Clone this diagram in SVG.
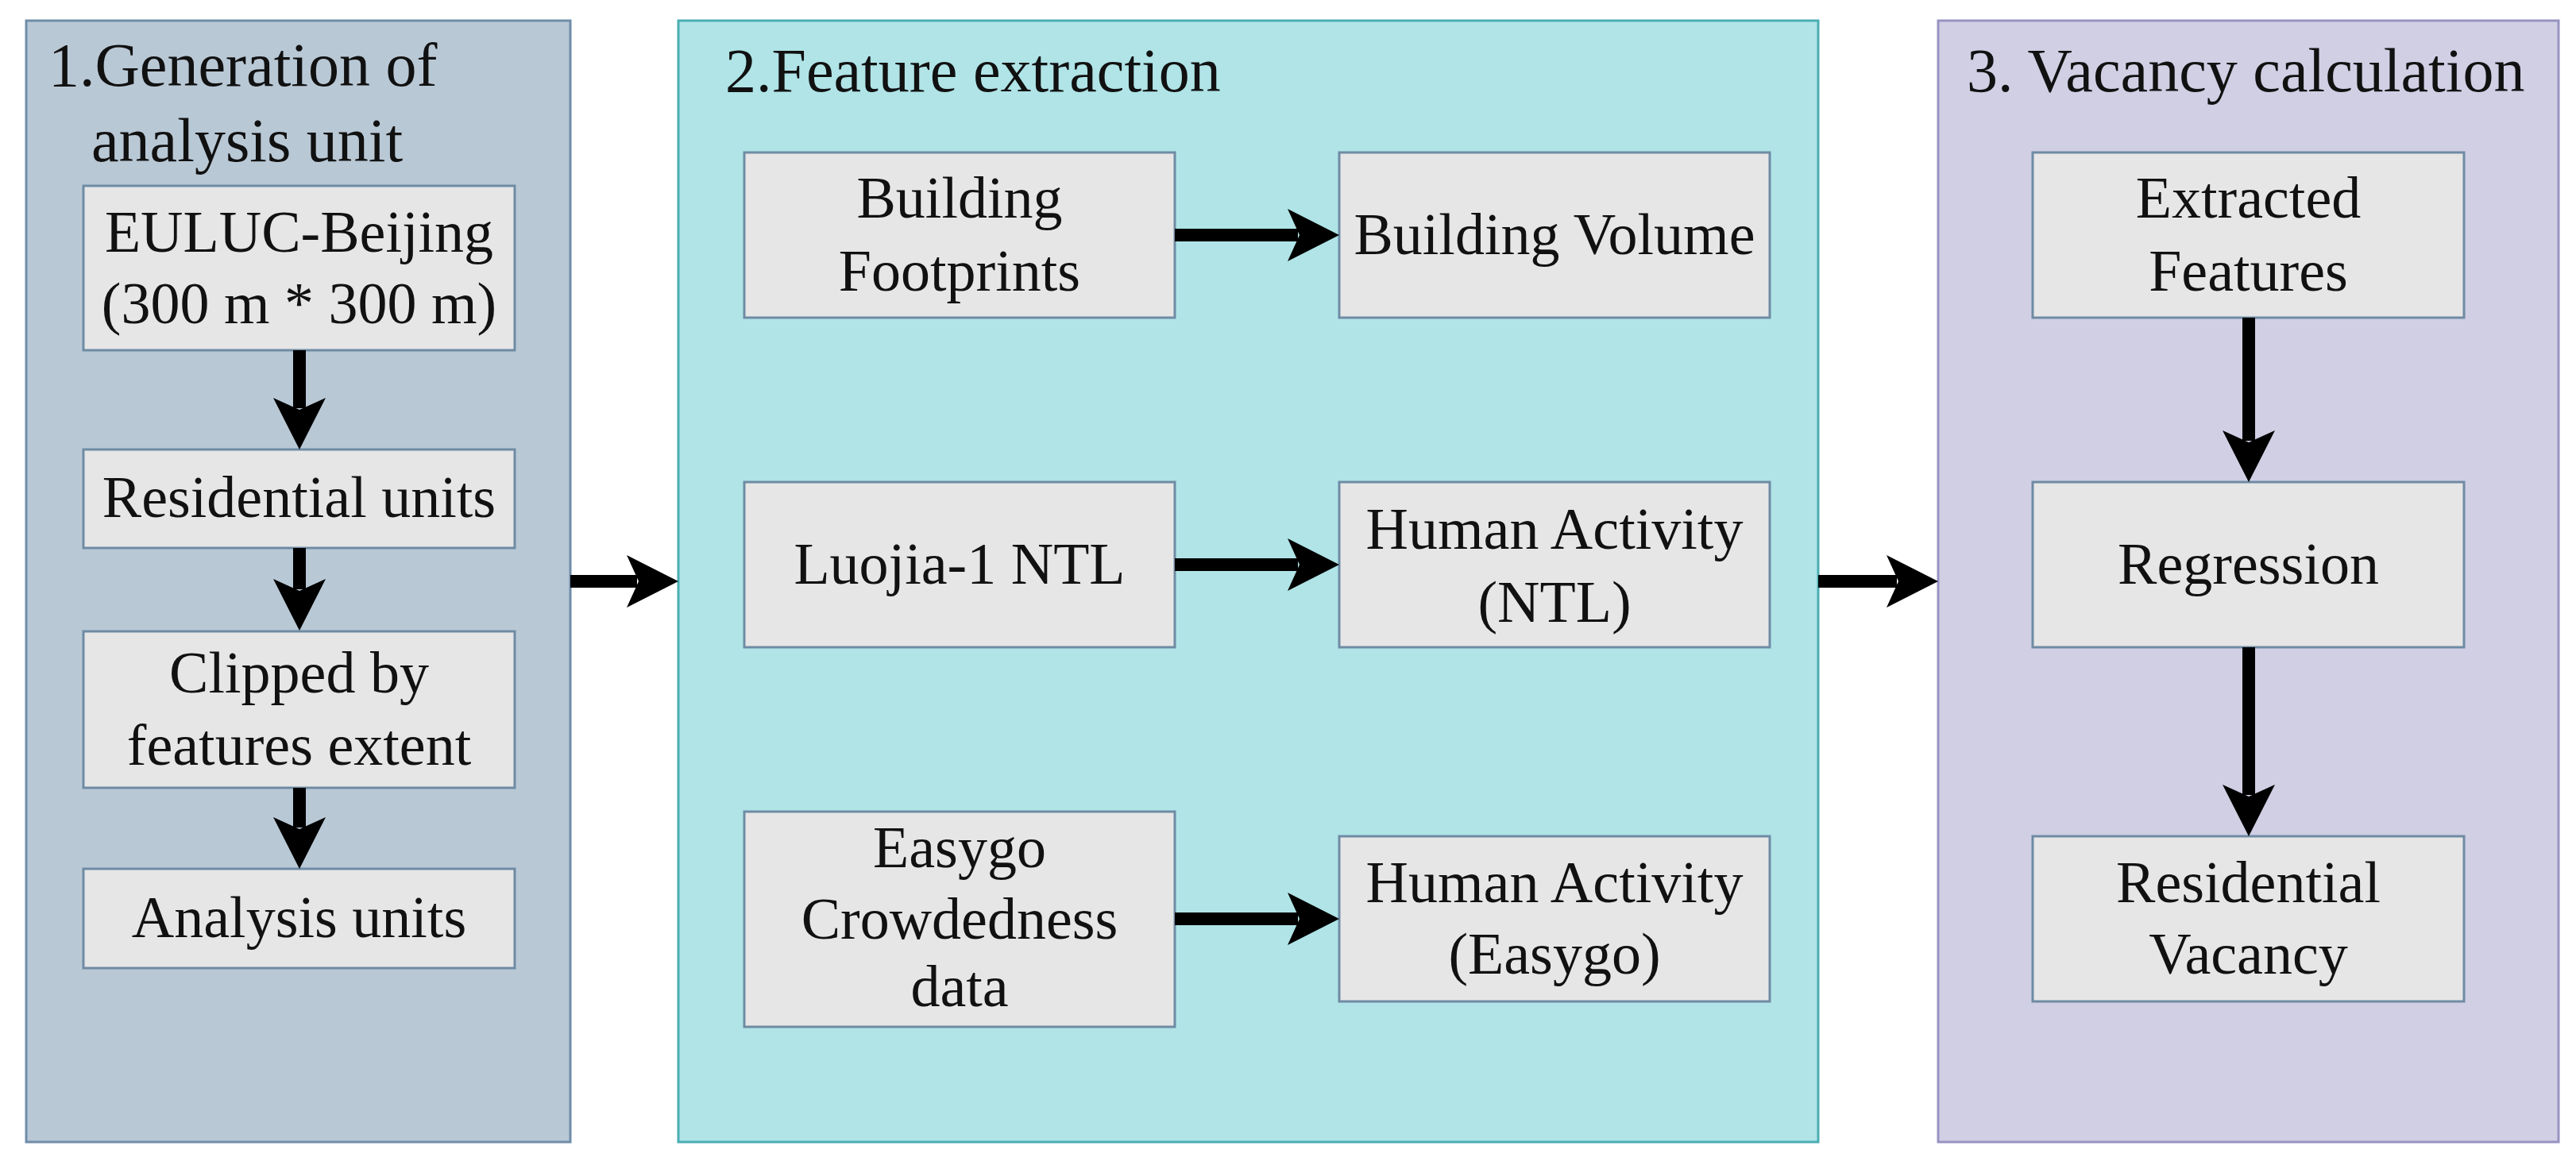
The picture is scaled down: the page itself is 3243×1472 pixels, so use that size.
<svg xmlns="http://www.w3.org/2000/svg" xmlns:xlink="http://www.w3.org/1999/xlink" width="3243" height="1472" viewBox="0 0 3243 1472">
<defs>
<style>
.t{font-family:"Liberation Serif","Times New Roman",serif;fill:#111;}
.title{font-size:78px;}
.lbl{font-size:74px;text-anchor:middle;}
.box{fill:#e6e6e6;stroke:#6f8ba4;stroke-width:3;}
.shaft{stroke:#000;stroke-width:16;fill:none;}
</style>
<path id="head" d="M0,0 L-65,-33 L-50,0 L-65,33 Z" fill="#000"/>
</defs>
<rect width="3243" height="1472" fill="#fff"/>

<g id="panel1">
<rect x="33" y="26" width="685" height="1412" fill="#b9c8d5" stroke="#6f8daa" stroke-width="3"/>
<text class="t title" x="61" y="108">1.Generation of</text>
<text class="t title" x="115" y="203">analysis unit</text>
</g>
<g id="panel2">
<rect x="854" y="26" width="1435" height="1412" fill="#b0e4e7" stroke="#4aaeb4" stroke-width="3"/>
<text class="t title" x="913" y="115">2.Feature extraction</text>
</g>
<g id="panel3">
<rect x="2440" y="26" width="781" height="1412" fill="#d0cfe4" stroke="#9893c2" stroke-width="3"/>
<text class="t title" x="2476" y="115">3. Vacancy calculation</text>
</g>

<g id="node-euluc">
<rect class="box" x="105" y="234" width="543" height="207"/>
<text class="t lbl" x="376.5" y="317">EULUC-Beijing</text>
<text class="t lbl" x="376.5" y="407">(300 m * 300 m)</text>
</g>
<g id="node-residential-units">
<rect class="box" x="105" y="566" width="543" height="124"/>
<text class="t lbl" x="376.5" y="651">Residential units</text>
</g>
<g id="node-clipped">
<rect class="box" x="105" y="795" width="543" height="197"/>
<text class="t lbl" x="376.5" y="872">Clipped by</text>
<text class="t lbl" x="376.5" y="963">features extent</text>
</g>
<g id="node-analysis-units">
<rect class="box" x="105" y="1094" width="543" height="125"/>
<text class="t lbl" x="376.5" y="1180">Analysis units</text>
</g>

<g id="node-building-footprints">
<rect class="box" x="937" y="192" width="542" height="208"/>
<text class="t lbl" x="1208" y="274">Building</text>
<text class="t lbl" x="1208" y="366">Footprints</text>
</g>
<g id="node-building-volume">
<rect class="box" x="1686" y="192" width="542" height="208"/>
<text class="t lbl" x="1957" y="320">Building Volume</text>
</g>
<g id="node-luojia">
<rect class="box" x="937" y="607" width="542" height="208"/>
<text class="t lbl" x="1208" y="735">Luojia-1 NTL</text>
</g>
<g id="node-human-ntl">
<rect class="box" x="1686" y="607" width="542" height="208"/>
<text class="t lbl" x="1957" y="691">Human Activity</text>
<text class="t lbl" x="1957" y="783">(NTL)</text>
</g>
<g id="node-easygo">
<rect class="box" x="937" y="1022" width="542" height="271"/>
<text class="t lbl" x="1208" y="1092">Easygo</text>
<text class="t lbl" x="1208" y="1182">Crowdedness</text>
<text class="t lbl" x="1208" y="1267">data</text>
</g>
<g id="node-human-easygo">
<rect class="box" x="1686" y="1053" width="542" height="208"/>
<text class="t lbl" x="1957" y="1136">Human Activity</text>
<text class="t lbl" x="1957" y="1226">(Easygo)</text>
</g>

<g id="node-extracted-features">
<rect class="box" x="2559" y="192" width="543" height="208"/>
<text class="t lbl" x="2830.5" y="274">Extracted</text>
<text class="t lbl" x="2830.5" y="366">Features</text>
</g>
<g id="node-regression">
<rect class="box" x="2559" y="607" width="543" height="208"/>
<text class="t lbl" x="2830.5" y="735">Regression</text>
</g>
<g id="node-residential-vacancy">
<rect class="box" x="2559" y="1053" width="543" height="208"/>
<text class="t lbl" x="2830.5" y="1136">Residential</text>
<text class="t lbl" x="2830.5" y="1226">Vacancy</text>
</g>

<g id="connectors">
<line class="shaft" x1="377" y1="441" x2="377" y2="514"/>
<use xlink:href="#head" href="#head" transform="translate(377,566) rotate(90)"/>
<line class="shaft" x1="377" y1="690" x2="377" y2="742"/>
<use xlink:href="#head" href="#head" transform="translate(377,794) rotate(90)"/>
<line class="shaft" x1="377" y1="992" x2="377" y2="1042"/>
<use xlink:href="#head" href="#head" transform="translate(377,1094) rotate(90)"/>

<line class="shaft" x1="718" y1="732" x2="802" y2="732"/>
<use xlink:href="#head" href="#head" transform="translate(854,732)"/>

<line class="shaft" x1="1479" y1="296" x2="1634" y2="296"/>
<use xlink:href="#head" href="#head" transform="translate(1686,296)"/>
<line class="shaft" x1="1479" y1="711" x2="1634" y2="711"/>
<use xlink:href="#head" href="#head" transform="translate(1686,711)"/>
<line class="shaft" x1="1479" y1="1157" x2="1634" y2="1157"/>
<use xlink:href="#head" href="#head" transform="translate(1686,1157)"/>

<line class="shaft" x1="2289" y1="732" x2="2388" y2="732"/>
<use xlink:href="#head" href="#head" transform="translate(2440,732)"/>

<line class="shaft" x1="2831" y1="400" x2="2831" y2="555"/>
<use xlink:href="#head" href="#head" transform="translate(2831,607) rotate(90)"/>
<line class="shaft" x1="2831" y1="815" x2="2831" y2="1001"/>
<use xlink:href="#head" href="#head" transform="translate(2831,1053) rotate(90)"/>
</g>
</svg>
